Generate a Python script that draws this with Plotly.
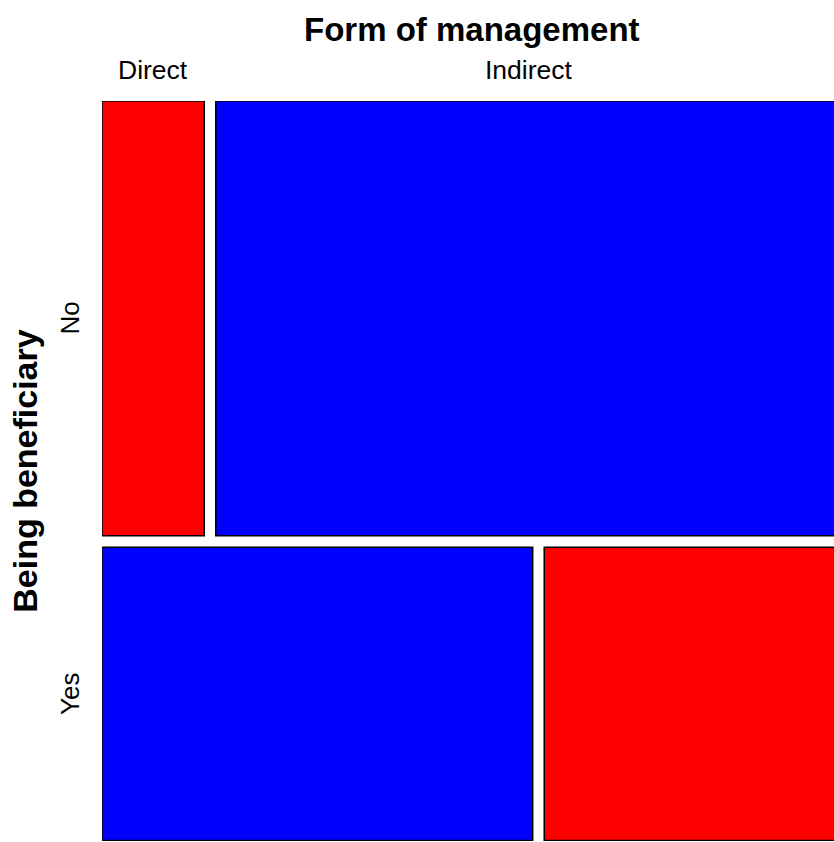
import plotly.graph_objects as go

# Data: counts of Being beneficiary (rows) x Form of management (columns)
row_labels = ["No", "Yes"]
col_labels = ["Direct", "Indirect"]
counts_no = [25, 153]
counts_yes = [71, 49]

counts = [counts_no, counts_yes]
gap = 11.5 / 728.0

total = sum(sum(r) for r in counts)
row_tot = [sum(r) for r in counts]
col_tot = [sum(counts[i][j] for i in range(2)) for j in range(2)]

fig = go.Figure()

y0 = 0.0
row_centers = []
top_row_centers = []
for i, row in enumerate(counts):
    h = row_tot[i] / total
    yc = y0 + h / 2
    row_centers.append(yc)
    x0 = 0.0
    for j, c in enumerate(row):
        w = c / row_tot[i]
        expected = row_tot[i] * col_tot[j] / total
        color = "#0000FF" if c > expected else "#FF0000"
        fig.add_trace(go.Bar(
            orientation="h", base=[x0], x=[w], y=[yc], width=[h],
            marker=dict(color=color, line=dict(color="black", width=1.5)),
            hoverinfo="skip", showlegend=False,
        ))
        if i == 0:
            top_row_centers.append(x0 + w / 2)
        x0 += w + gap
    y0 += h + gap

W, H = 834, 842
ml, mt, mb = 102, 101, 1
ppu = 728.0

fig.update_layout(
    width=W, height=H,
    margin=dict(l=ml, r=0, t=mt, b=mb, pad=0),
    plot_bgcolor="white", paper_bgcolor="white",
    barmode="overlay",
    xaxis=dict(visible=False, range=[0, (W - ml) / ppu], fixedrange=True),
    yaxis=dict(visible=False, range=[(H - mt - mb) / ppu, 0], fixedrange=True),
    font=dict(family="Liberation Sans, Arial, sans-serif", color="black"),
)

# column labels
for j, lab in enumerate(col_labels):
    fig.add_annotation(text=lab, x=top_row_centers[j], xref="x", y=1, yref="paper",
                       yanchor="middle", yshift=31, showarrow=False, font=dict(size=26.5))
# row labels
for i, lab in enumerate(row_labels):
    fig.add_annotation(text=lab, x=0, xref="paper", y=row_centers[i], yref="y",
                       xanchor="center", xshift=-32, textangle=-90, showarrow=False,
                       font=dict(size=26))

fig.add_annotation(text="<b>Form of management</b>", x=(1 + gap) / 2, xref="x", y=1, yref="paper",
                   yanchor="middle", yshift=72, showarrow=False, font=dict(size=33))
fig.add_annotation(text="<b>Being beneficiary</b>", x=0, xref="paper", y=(1 + gap) / 2, yref="y",
                   xanchor="center", xshift=-77, textangle=-90, showarrow=False, font=dict(size=34))

fig.write_html(
    "out.html",
    config={"displayModeBar": False, "staticPlot": True},
    post_script="document.body.style.margin='0px';document.body.style.overflow='hidden';",
)
